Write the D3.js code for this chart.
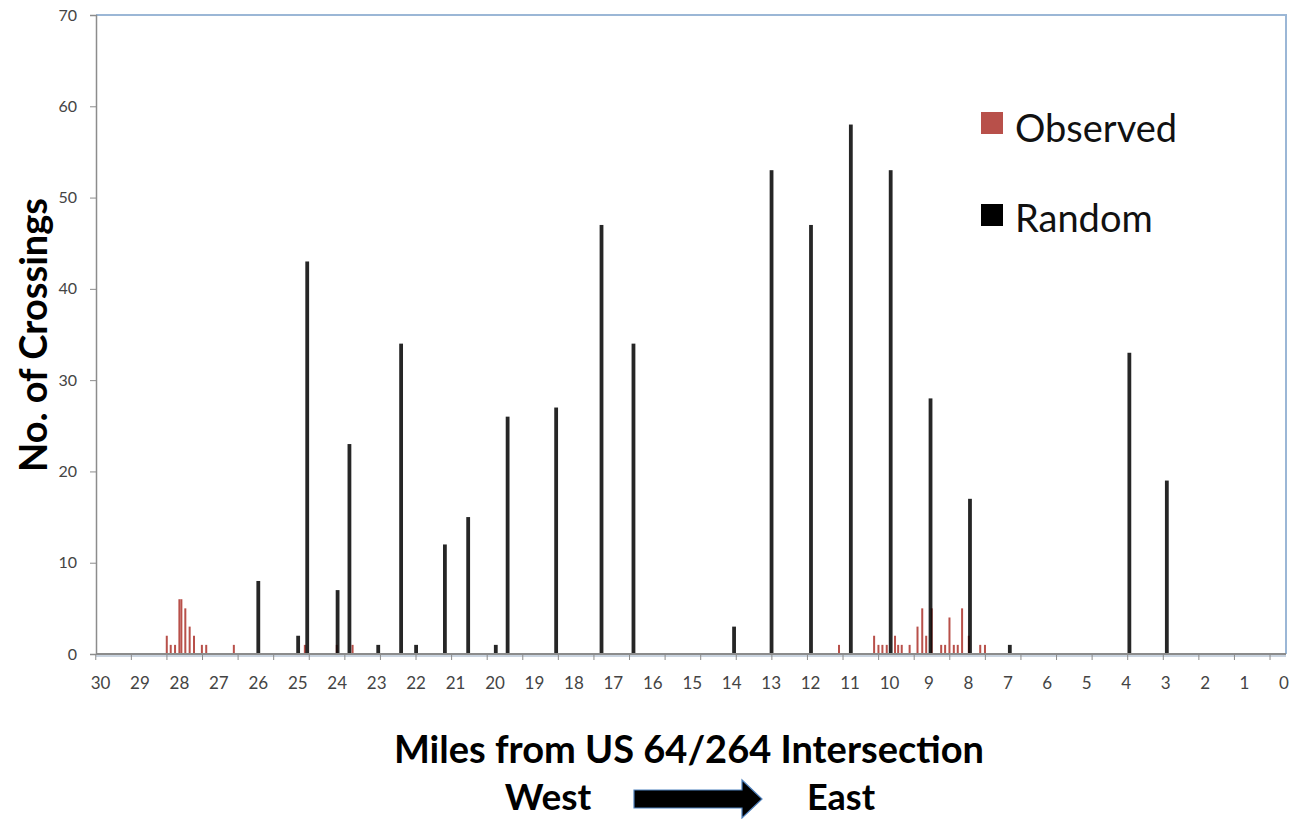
<!DOCTYPE html>
<meta charset="utf-8">
<html lang="en-us">
  <head>
    <script type="text/javascript" src="https://cdn.jsdelivr.net/npm/d3@7/dist/d3.min.js"></script>
    <style>
      body { margin: 0; background: #fff; }
      text { font-family: Lato, "Open Sans", sans-serif; }
    </style>
  </head>
  <body>
    <div class='chart'></div>

  <script>
    // miles from the intersection
    const randomMiles  = [26.0, 24.99, 24.76, 23.99, 23.69, 22.96, 22.38, 22.0, 21.27, 20.68, 19.98, 19.68,
                          18.45, 17.3, 16.49, 13.94, 12.99, 11.99, 10.98, 9.97, 8.96, 7.96, 6.95, 3.92, 2.97];
    const randomCounts = [8, 2, 43, 7, 23, 1, 34, 1, 12, 15, 1, 26,
                          27, 47, 34, 3, 53, 47, 58, 53, 28, 17, 1, 33, 19];

    const observedMiles  = [28.32, 28.22, 28.11, 28.0, 27.95, 27.85, 27.74, 27.63, 27.43, 27.32, 26.62,
                            24.82, 24.01, 23.61, 11.28, 10.39, 10.28, 10.18, 10.07, 9.86, 9.78, 9.69,
                            9.49, 9.29, 9.17, 9.07, 8.93, 8.69, 8.59, 8.48, 8.37, 8.27, 8.16, 7.99, 7.7, 7.58];
    const observedCounts = [2, 1, 1, 6, 6, 5, 3, 2, 1, 1, 1,
                            1, 1, 1, 1, 2, 1, 1, 1, 2, 1, 1,
                            1, 3, 5, 2, 5, 1, 1, 4, 1, 1, 5, 2, 1, 1];

    const mileLabels = d3.range(30, -1, -1);      // 30 ... 0
    const yTicks = [0, 10, 20, 30, 40, 50, 60, 70];

    const W = 1304, H = 819;
    const plotL = 96, plotR = 1286, plotT = 15, plotB = 654;

    const svg = d3.select('.chart').append('svg').attr('width', W).attr('height', H);

    const x = d3.scaleLinear().domain([30, 0]).range([100.5, 1284]);
    const y = d3.scaleLinear().domain([0, 70]).range([plotB, plotT]);

    // frame: top + right in light blue
    svg.append('path')
      .attr('d', `M${plotL},${plotT}H${plotR}V${plotB}`)
      .attr('fill', 'none').attr('stroke', '#9bb7d6').attr('stroke-width', 2);

    // y axis
    const yAxis = svg.append('g').attr('transform', `translate(${plotL},0)`)
      .call(d3.axisLeft(y).tickValues(yTicks).tickSize(6).tickPadding(13));
    yAxis.select('.domain').attr('stroke', '#8c8c8c').attr('stroke-width', 1.5);
    yAxis.selectAll('.tick line').attr('stroke', '#8c8c8c');
    yAxis.selectAll('text').attr('font-size', 16).attr('fill', '#444').style('font-family', 'Lato, sans-serif');

    // bars: observed underneath, random on top
    svg.append('g').selectAll('rect').data(observedMiles).enter()
      .append('rect')
        .attr('x', d => x(d) - 1).attr('width', 2)
        .attr('y', (d, i) => y(observedCounts[i]))
        .attr('height', (d, i) => y(0) - y(observedCounts[i]))
        .attr('fill', '#b8504a');

    svg.append('g').selectAll('rect').data(randomMiles).enter()
      .append('rect')
        .attr('x', d => x(d) - 1.9).attr('width', 3.8)
        .attr('y', (d, i) => y(randomCounts[i]))
        .attr('height', (d, i) => y(0) - y(randomCounts[i]))
        .attr('fill', '#000').attr('fill-opacity', 0.85);

    // x axis line and its own tick marks (Excel put them every ~0.9 mile)
    svg.append('line')
      .attr('x1', plotL).attr('x2', plotR).attr('y1', plotB).attr('y2', plotB)
      .attr('stroke', '#8c8c8c').attr('stroke-width', 2);
    svg.append('line')
      .attr('x1', plotL).attr('x2', plotR).attr('y1', plotB + 2).attr('y2', plotB + 2)
      .attr('stroke', '#c9d3df').attr('stroke-width', 2);

    const tickMiles = d3.range(30.12, -0.1, -0.902);
    svg.append('g').selectAll('line').data(tickMiles).enter()
      .append('line')
        .attr('x1', d => x(d)).attr('x2', d => x(d))
        .attr('y1', plotB).attr('y2', plotB + 6)
        .attr('stroke', '#8c8c8c').attr('stroke-width', 1);

    svg.append('g').selectAll('text').data(mileLabels).enter()
      .append('text')
        .attr('x', d => x(d)).attr('y', 689)
        .attr('text-anchor', 'middle')
        .attr('font-size', 17).attr('fill', '#444')
        .text(d => d);

    // legend
    const legend = [['Observed', '#b8504a', 112, 142], ['Random', '#000', 204, 232]];
    legend.forEach(function(l) {
      svg.append('rect').attr('x', 981).attr('y', l[2]).attr('width', 22).attr('height', 22).attr('fill', l[1]);
      svg.append('text').attr('x', 1015).attr('y', l[3])
        .attr('font-size', 38).attr('fill', '#111').text(l[0]);
    });

    // axis titles
    svg.append('text')
      .attr('transform', 'translate(47,335) rotate(-90)')
      .attr('text-anchor', 'middle')
      .attr('font-size', 38).attr('font-weight', 'bold').attr('fill', '#000')
      .text('No. of Crossings');

    svg.append('text')
      .attr('x', 689).attr('y', 763)
      .attr('text-anchor', 'middle')
      .attr('font-size', 38).attr('font-weight', 'bold').attr('fill', '#000')
      .text('Miles from US 64/264 Intersection');

    svg.append('text').attr('x', 548).attr('y', 810).attr('text-anchor', 'middle')
      .attr('font-size', 37).attr('font-weight', 'bold').text('West');
    svg.append('text').attr('x', 841).attr('y', 810).attr('text-anchor', 'middle')
      .attr('font-size', 36).attr('font-weight', 'bold').text('East');

    // block arrow West -> East
    svg.append('path')
      .attr('d', 'M634,790H742V780L762,799L742,818V808H634Z')
      .attr('fill', '#000').attr('stroke', '#4f81bd').attr('stroke-width', 1.2);
  </script>
  </body>
</html>
